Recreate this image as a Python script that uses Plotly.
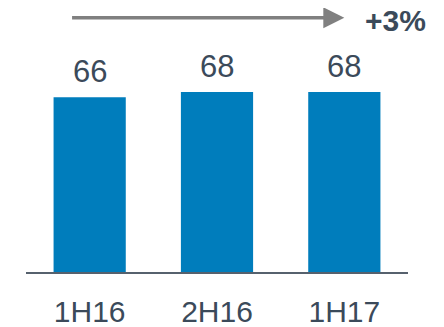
import plotly.graph_objects as go

categories = ["1H16", "2H16", "1H17"]
values = [66, 68, 68]
growth_label = "+3%"

bar_color = "#007dbc"
text_color = "#3b4a5a"

fig = go.Figure(
    go.Bar(
        x=categories,
        y=values,
        marker=dict(color=bar_color, line=dict(width=0)),
        width=0.567,
        cliponaxis=False,
    )
)

value_annotations = [
    dict(
        x=c, y=v, xref="x", yref="y", text=str(v), showarrow=False,
        xanchor="center", yanchor="bottom", yshift=6,
        font=dict(size=31, color=text_color),
    )
    for c, v in zip(categories, values)
]

fig.update_layout(
    width=444,
    height=327,
    margin=dict(l=18, r=44, t=0, b=63, autoexpand=False),
    paper_bgcolor="white",
    plot_bgcolor="white",
    showlegend=False,
    font=dict(family="Liberation Sans, Arial", color=text_color),
    xaxis=dict(
        range=[-0.5, 2.5],
        showline=True,
        linecolor="#56616d",
        linewidth=2,
        showgrid=False,
        ticks="",
        tickfont=dict(size=30, color=text_color),
        ticklabelstandoff=12,
        automargin=False,
    ),
    yaxis=dict(
        range=[0, 99.7],
        visible=False,
        automargin=False,
    ),
    annotations=value_annotations + [
        dict(
            x=2.0, y=96, xref="x", yref="y",
            ax=-0.15, ay=96, axref="x", ayref="y",
            showarrow=True, arrowhead=2, arrowsize=1.2, arrowwidth=3.5,
            arrowcolor="#808080", text="",
        ),
        dict(
            x=2.4, y=94.8, xref="x", yref="y", xanchor="center", yanchor="middle",
            text="<b>%s</b>" % growth_label, showarrow=False,
            font=dict(size=30, color=text_color),
        ),
    ],
)

fig.write_html("out.html")
